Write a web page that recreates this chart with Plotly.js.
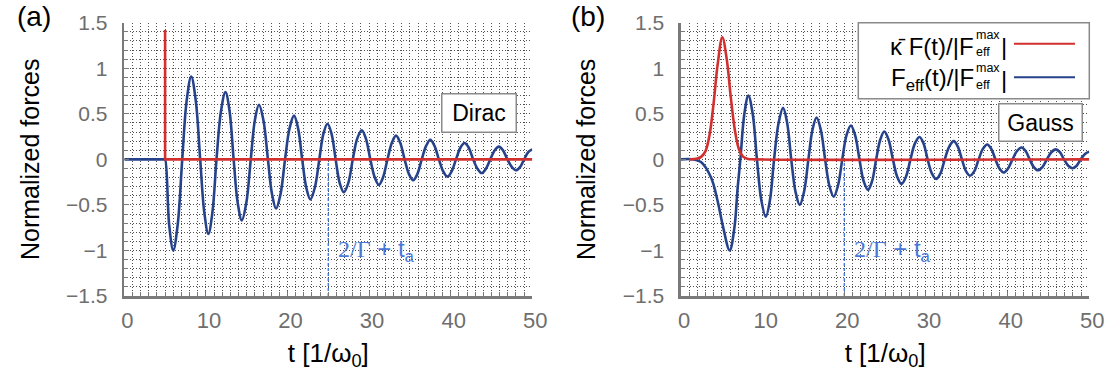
<!DOCTYPE html>
<html>
<head>
<meta charset="utf-8">
<script src="https://cdn.plot.ly/plotly-3.0.1.min.js"></script>
<style>html,body{margin:0;padding:0;background:#fff;}#chart{width:1112px;height:378px;}</style>
</head>
<body>
<div id="chart"></div>
<script>
// ---- data ----
// Panel (a): Dirac pulse
const tA = [0, 4.9, 5,
  5.5, 6.0, 6.55, 7.1, 7.65, 8.2, 8.75, 9.3, 9.8, 10.3, 10.8, 11.3, 11.85, 12.4, 12.9, 13.4,
  13.9, 14.4, 14.95, 15.5, 16.0, 16.5, 17.05, 17.6, 18.1, 18.6, 19.15, 19.7, 20.25, 20.8, 21.3, 21.8,
  22.3, 22.8, 23.35, 23.9, 24.4, 24.9, 25.4, 25.9, 26.4, 26.9, 27.45, 28.0, 28.55, 29.1, 29.6, 30.15,
  30.7, 31.2, 31.7, 32.25, 32.8, 33.3, 33.8, 34.35, 34.9, 35.4, 35.9, 36.45, 37.0, 37.5, 38.0, 38.55,
  39.1, 39.6, 40.1, 40.65, 41.2, 41.7, 42.2, 42.75, 43.3, 43.8, 44.3, 44.85, 45.4, 45.9, 46.4, 46.95,
  47.5, 48.0, 48.5, 49.0, 49.5, 50.0];
const fEffA = [0, 0, 0,
  -0.72, -1.0, -0.71, 0, 0.65, 0.91, 0.65, 0, -0.58, -0.82, -0.58, 0, 0.53, 0.74, 0.53, 0,
  -0.48, -0.67, -0.48, 0, 0.43, 0.60, 0.43, 0, -0.38, -0.54, -0.38, 0, 0.34, 0.48, 0.34, 0,
  -0.31, -0.44, -0.31, 0, 0.28, 0.39, 0.28, 0, -0.26, -0.36, -0.26, 0, 0.23, 0.32, 0.23, 0,
  -0.2, -0.28, -0.2, 0, 0.185, 0.26, 0.185, 0, -0.165, -0.23, -0.165, 0, 0.15, 0.215, 0.15, 0,
  -0.135, -0.19, -0.135, 0, 0.13, 0.18, 0.13, 0, -0.105, -0.15, -0.105, 0, 0.1, 0.14, 0.1, 0,
  -0.085, -0.12, -0.085, 0, 0.08, 0.11];
const tForceA = [5, 5, 50];
const forceA = [1.42, 0, 0];
const tMarkA = 25;

// Panel (b): Gaussian pulse
const tB = [0, 1.5, 2.45, 3.68, 4.49, 5.1, 5.96, 6.54, 6.94, 7.27,
  7.76, 8.25, 8.78, 9.3, 9.84, 10.38, 10.89, 11.4, 11.95, 12.5, 13.0, 13.5,
  14.02, 14.54, 15.07, 15.6, 16.1, 16.6, 17.12, 17.65, 18.17, 18.7, 19.22, 19.75,
  20.27, 20.8, 21.32, 21.85, 22.37, 22.9, 23.4, 23.9, 24.4, 24.9, 25.42, 25.95,
  26.47, 27.0, 27.55, 28.1, 28.65, 29.2, 29.7, 30.2, 30.72, 31.25, 31.77, 32.3,
  32.85, 33.4, 33.9, 34.4, 34.9, 35.4, 35.92, 36.45, 36.97, 37.5, 38.0, 38.5,
  39.0, 39.5, 40.05, 40.6, 41.15, 41.7, 42.2, 42.7, 43.2, 43.7, 44.25, 44.8,
  45.35, 45.9, 46.4, 46.9, 47.42, 47.95, 48.45, 48.95, 49.47, 50.0];
const fEffB = [0, 0, -0.03, -0.2, -0.46, -0.72, -1.0, -0.75, -0.31, 0,
  0.5, 0.70, 0.5, 0, -0.45, -0.63, -0.45, 0, 0.4, 0.565, 0.4, 0,
  -0.355, -0.5, -0.355, 0, 0.325, 0.46, 0.325, 0, -0.29, -0.41, -0.29, 0,
  0.265, 0.372, 0.265, 0, -0.24, -0.335, -0.24, 0, 0.215, 0.305, 0.215, 0,
  -0.19, -0.27, -0.19, 0, 0.175, 0.245, 0.175, 0, -0.155, -0.216, -0.155, 0,
  0.14, 0.2, 0.14, 0, -0.13, -0.18, -0.13, 0, 0.115, 0.163, 0.115, 0,
  -0.1, -0.145, -0.1, 0, 0.092, 0.13, 0.092, 0, -0.085, -0.12, -0.085, 0,
  0.078, 0.11, 0.078, 0, -0.07, -0.097, -0.07, 0, 0.06, 0.085];
const tForceB = [1.0, 2.0, 2.5, 3.0, 3.5, 4.0, 4.5, 5.06, 5.6, 6.1, 6.6, 7.1, 7.6, 8.2, 9.0, 50];
const forceB = [0, 0.01, 0.03, 0.09, 0.27, 0.62, 1.05, 1.34, 1.10, 0.68, 0.32, 0.11, 0.03, 0.005, 0, 0];
const tMarkB = 20;

const xTickVals = [0, 10, 20, 30, 40, 50];
const yTickVals = [-1.5, -1, -0.5, 0, 0.5, 1, 1.5];
const yTickText = ['\u22121.5', '\u22121', '\u22120.5', '0', '0.5', '1', '1.5'];
const panelLabels = ['(a)', '(b)'];
const pulseNames = ['Dirac', 'Gauss'];
const legendNames = ['\u03BA\u0304 F(t)/|F', 'F<sub>eff</sub>(t)/|F'];
const markLabel = '<span style="font-family:\'Liberation Serif\',serif">2/\u0393</span> + t<sub>a</sub>';
const xTitle = 't [1/\u03C9<sub>0</sub>]';
const yTitle = 'Normalized forces';

// ---- styling ----
const W = 1112, H = 378;
const BLUE = '#26428b', RED = '#d2302f', MARK = '#4a78d8';
const SANS = 'Liberation Sans, Arial, sans-serif';
const px = v => v / W;
const py = v => 1 - v / H;

function curve(x, y, color, xa, ya, shape) {
  return {x, y, xaxis: xa, yaxis: ya, type: 'scatter', mode: 'lines', hoverinfo: 'skip',
    line: {color, width: 2.6, shape: shape, smoothing: 1}};
}
function marker(t, xa, ya) {
  return {x: [t, t], y: [-1.5, 0], xaxis: xa, yaxis: ya, type: 'scatter', mode: 'lines', hoverinfo: 'skip',
    line: {color: MARK, width: 1.4, dash: '3px,2px'}};
}

const traces = [
  marker(tMarkA, 'x', 'y'),
  curve(tA, fEffA, BLUE, 'x', 'y', 'spline'),
  curve(tForceA, forceA, RED, 'x', 'y', 'linear'),
  marker(tMarkB, 'x2', 'y2'),
  curve(tB, fEffB, BLUE, 'x2', 'y2', 'spline'),
  curve(tForceB, forceB, RED, 'x2', 'y2', 'spline')
];

const gridDash = '1px,2px', gridColor = '#505050';
function xAxis(d0, d1, anchor) {
  return {domain: [px(d0), px(d1)], anchor, range: [0, 50], tickvals: xTickVals,
    showgrid: true, gridcolor: gridColor, griddash: gridDash, gridwidth: 1,
    zeroline: false, showline: true, linecolor: '#7a7a7a', linewidth: 2.6,
    ticks: 'inside', ticklen: 5, tickcolor: '#7a7a7a', tickwidth: 1,
    ticklabelstandoff: 3, ticklabelshift: 3,
    tickfont: {family: SANS, size: 22, color: '#6e6e6e'},
    minor: {dtick: 1, showgrid: true, gridcolor: gridColor, griddash: gridDash, gridwidth: 1, ticks: 'inside', ticklen: 4, tickcolor: '#7a7a7a'},
    title: {text: xTitle, font: {family: SANS, size: 26, color: '#000'}, standoff: 12},
    fixedrange: true};
}
function yAxis(anchor) {
  return {domain: [py(296), py(22.7)], anchor, range: [-1.5, 1.5], tickvals: yTickVals, ticktext: yTickText,
    showgrid: true, gridcolor: gridColor, griddash: gridDash, gridwidth: 1,
    zeroline: false, showline: true, linecolor: '#7a7a7a', linewidth: 2.6,
    ticks: 'inside', ticklen: 5, tickcolor: '#7a7a7a', tickwidth: 1,
    ticklabelstandoff: 10,
    tickfont: {family: SANS, size: 21, color: '#6e6e6e'},
    minor: {dtick: 0.1, showgrid: true, gridcolor: gridColor, griddash: gridDash, gridwidth: 1, ticks: 'inside', ticklen: 4, tickcolor: '#7a7a7a'},
    title: {text: yTitle, font: {family: SANS, size: 25, color: '#000'}, standoff: 20},
    fixedrange: true};
}

const annotations = [];
const shapes = [];
// panel labels
[[34, 0], [588, 0]].forEach((p, i) => annotations.push({xref: 'paper', yref: 'paper', x: px(p[0]), y: 1,
  xanchor: 'center', yanchor: 'top', showarrow: false, borderpad: 0, text: panelLabels[i], font: {family: SANS, size: 28, color: '#000'}}));
// pulse type boxes
annotations.push({xref: 'x', yref: 'y', x: 43.5, y: 0.506, xanchor: 'center', yanchor: 'middle', showarrow: false,
  text: pulseNames[0], font: {family: SANS, size: 23, color: '#000'}, width: 71, height: 35, borderpad: 1,
  bordercolor: '#8a8a8a', borderwidth: 1.5, bgcolor: '#fff'});
annotations.push({xref: 'x2', yref: 'y2', x: 44.0, y: 0.405, xanchor: 'center', yanchor: 'middle', showarrow: false,
  text: pulseNames[1], font: {family: SANS, size: 23, color: '#000'}, width: 80, height: 34, borderpad: 1,
  bordercolor: '#8a8a8a', borderwidth: 1.5, bgcolor: '#fff'});
// marker labels
annotations.push({xref: 'x', yref: 'y', x: tMarkA + 0.9, y: -1.0, xanchor: 'left', yanchor: 'middle', showarrow: false,
  text: markLabel, font: {family: SANS, size: 24, color: MARK}});
annotations.push({xref: 'x2', yref: 'y2', x: tMarkB + 0.9, y: -1.0, xanchor: 'left', yanchor: 'middle', showarrow: false,
  text: markLabel, font: {family: SANS, size: 24, color: MARK}});

// custom legend (right panel, symbols on the right)
shapes.push({type: 'rect', xref: 'paper', yref: 'paper', x0: px(858.3), x1: px(1089.3), y0: py(98.7), y1: py(22.7),
  line: {color: '#8a8a8a', width: 1.5}, fillcolor: '#fff', layer: 'above'});
const legRows = [{c: RED, ly: 43.7, ty: 46.5, sup: 34.5, sub: 51.5}, {c: BLUE, ly: 77.3, ty: 79.5, sup: 67.5, sub: 85}];
legRows.forEach((r, i) => {
  shapes.push({type: 'line', xref: 'paper', yref: 'paper', x0: px(1014), x1: px(1075), y0: py(r.ly), y1: py(r.ly),
    line: {color: r.c, width: 2}, layer: 'above'});
  annotations.push({xref: 'paper', yref: 'paper', x: px(975), y: py(r.ty), xanchor: 'right', yanchor: 'middle', showarrow: false,
    text: legendNames[i], font: {family: SANS, size: 24, color: '#000'}, borderpad: 0});
  annotations.push({xref: 'paper', yref: 'paper', x: px(975), y: py(r.sup), xanchor: 'left', yanchor: 'middle', showarrow: false,
    text: 'max', font: {family: SANS, size: 12.5, color: '#000'}, borderpad: 0});
  annotations.push({xref: 'paper', yref: 'paper', x: px(975), y: py(r.sub), xanchor: 'left', yanchor: 'middle', showarrow: false,
    text: 'eff', font: {family: SANS, size: 12.5, color: '#000'}, borderpad: 0});
  annotations.push({xref: 'paper', yref: 'paper', x: px(1000), y: py(r.ty), xanchor: 'left', yanchor: 'middle', showarrow: false,
    text: '|', font: {family: SANS, size: 24, color: '#000'}, borderpad: 0});
});

const layout = {
  width: W, height: H, margin: {l: 0, r: 0, t: 0, b: 0, autoexpand: false},
  paper_bgcolor: '#fff', plot_bgcolor: '#fff', showlegend: false,
  font: {family: SANS},
  xaxis: xAxis(124.3, 532.3, 'y'), yaxis: yAxis('x'),
  xaxis2: xAxis(681, 1089.3, 'y2'), yaxis2: yAxis('x2'),
  annotations, shapes
};
Plotly.newPlot('chart', traces, layout, {displayModeBar: false, staticPlot: true});
</script>
</body>
</html>
